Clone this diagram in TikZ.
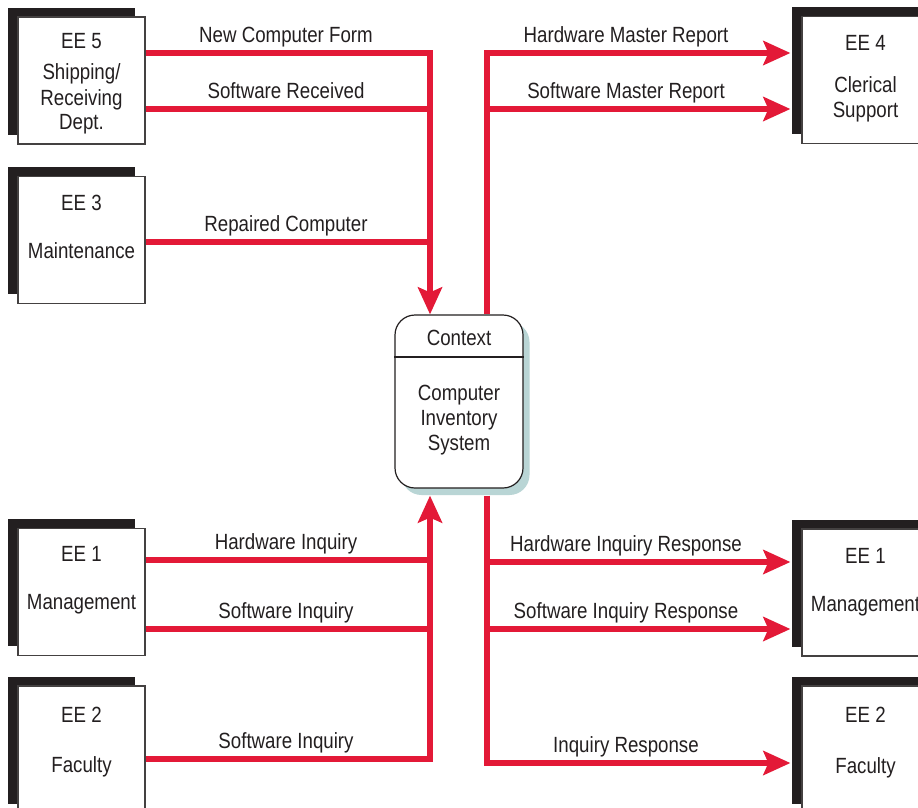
\documentclass[tikz,border=0pt]{standalone}
\usepackage{fontspec}
\setmainfont{Liberation Sans}[FakeStretch=0.85]
\usetikzlibrary{arrows.meta,shadows}
\definecolor{flowred}{RGB}{227,25,55}
\definecolor{ink}{RGB}{35,31,32}
\definecolor{ctxshadow}{RGB}{185,213,213}
\begin{document}
\begin{tikzpicture}[x=1pt,y=-1pt,
  font=\fontsize{22}{26}\selectfont, text=ink,
  ee/.style={draw=ink!85, line width=1.2pt, fill=white, minimum width=127pt, minimum height=127pt, inner sep=0pt,
    general shadow={fill=ink, shadow xshift=-10pt, shadow yshift=9.5pt}},
  txt/.style={anchor=base, inner sep=0pt},
  flow/.style={draw=flowred, line width=5.5pt},
  arr/.style={flow, -{Stealth[length=27pt,width=24pt,inset=5pt]}}]
\useasboundingbox (0,0) rectangle (918,807);
\clip (0,0) rectangle (918,807);
\fill[white] (0,0) rectangle (918,807);

% external entities
\node[ee] (ee5) at (81.5,80.5) {};
\node[ee] (ee3) at (81.5,240) {};
\node[ee] (ee1l) at (81.5,592) {};
\node[ee] (ee2l) at (81.5,749.5) {};
\node[ee] (ee4) at (865.5,80) {};
\node[ee] (ee1r) at (865.5,592.5) {};
\node[ee] (ee2r) at (865.5,749.5) {};

\node[txt] (t5a) at (81.5,48) {EE 5};
\node[txt] (t5b) at (81.5,79) {Shipping/};
\node[txt] (t5c) at (81.5,105) {Receiving};
\node[txt] (t5d) at (81.5,129) {Dept.};
\node[txt] (t3a) at (81.5,210) {EE 3};
\node[txt] (t3b) at (81.5,258) {Maintenance};
\node[txt] (t1a) at (81.5,561) {EE 1};
\node[txt] (t1b) at (81.5,609) {Management};
\node[txt] (t2a) at (81.5,722) {EE 2};
\node[txt] (t2b) at (81.5,772) {Faculty};
\node[txt] (t4a) at (865.5,50) {EE 4};
\node[txt] (t4b) at (865.5,92) {Clerical};
\node[txt] (t4c) at (865.5,117) {Support};
\node[txt] (r1a) at (865.5,563) {EE 1};
\node[txt] (r1b) at (865.5,611) {Management};
\node[txt] (r2a) at (865.5,722) {EE 2};
\node[txt] (r2b) at (865.5,773) {Faculty};

% process
\node[draw=ink, line width=1.2pt, fill=white, rounded corners=20pt, minimum width=128pt, minimum height=173pt,
  general shadow={fill=ctxshadow, shadow xshift=6.5pt, shadow yshift=-7pt}] (ctx) at (459,401.5) {};
\coordinate (divy) at (0,357);
\draw[ink, line width=1.2pt] (ctx.west |- divy) -- (ctx.east |- divy);
\node[txt] (ctxa) at (459,345) {Context};
\node[txt] (ctxb) at (459,400) {Computer};
\node[txt] (ctxc) at (459,425) {Inventory};
\node[txt] (ctxd) at (459,450) {System};
\coordinate (ctxbot) at ([yshift=-7pt]ctx.south);

% buses and levels
\coordinate (lbus) at (430,0);
\coordinate (rbus) at (487,0);
\coordinate (yA) at (0,53);
\coordinate (yB) at (0,109);
\coordinate (yC) at (0,242);
\coordinate (yD) at (0,560);
\coordinate (yE) at (0,629);
\coordinate (yF) at (0,759);
\coordinate (yG) at (0,562);
\coordinate (yH) at (0,629);
\coordinate (yI) at (0,763);
\coordinate (ee4tip) at ([xshift=-11pt]ee4.west);
\coordinate (ee1tip) at ([xshift=-11pt]ee1r.west);
\coordinate (ee2tip) at ([xshift=-11pt]ee2r.west);

% flows into the process
\draw[arr] (ee5.east |- yA) -- (lbus |- yA) -- (lbus |- ctx.north);
\draw[flow] (ee5.east |- yB) -- (lbus |- yB);
\draw[flow] (ee3.east |- yC) -- (lbus |- yC);
\draw[arr] (ee2l.east |- yF) -- (lbus |- yF) -- (lbus |- ctxbot);
\draw[flow] (ee1l.east |- yD) -- (lbus |- yD);
\draw[flow] (ee1l.east |- yE) -- (lbus |- yE);

% flows out of the process
\draw[arr] (rbus |- ctx.north) -- (rbus |- yA) -- (ee4tip |- yA);
\draw[arr] (rbus |- yB) -- (ee4tip |- yB);
\draw[arr] (rbus |- ctxbot) -- (rbus |- yI) -- (ee2tip |- yI);
\draw[arr] (rbus |- yG) -- (ee1tip |- yG);
\draw[arr] (rbus |- yH) -- (ee1tip |- yH);

% flow labels
\node[txt] (l1) at (286,42.5) {New Computer Form};
\node[txt] (l2) at (286,98.5) {Software Received};
\node[txt] (l3) at (286,231.5) {Repaired Computer};
\node[txt] (l4) at (286,549.5) {Hardware Inquiry};
\node[txt] (l5) at (286,618.5) {Software Inquiry};
\node[txt] (l6) at (286,748.5) {Software Inquiry};
\node[txt] (r1) at (626,42.5) {Hardware Master Report};
\node[txt] (r2) at (626,98.5) {Software Master Report};
\node[txt] (r3) at (626,551.5) {Hardware Inquiry Response};
\node[txt] (r4) at (626,618.5) {Software Inquiry Response};
\node[txt] (r5) at (626,752.5) {Inquiry Response};
\end{tikzpicture}
\end{document}
